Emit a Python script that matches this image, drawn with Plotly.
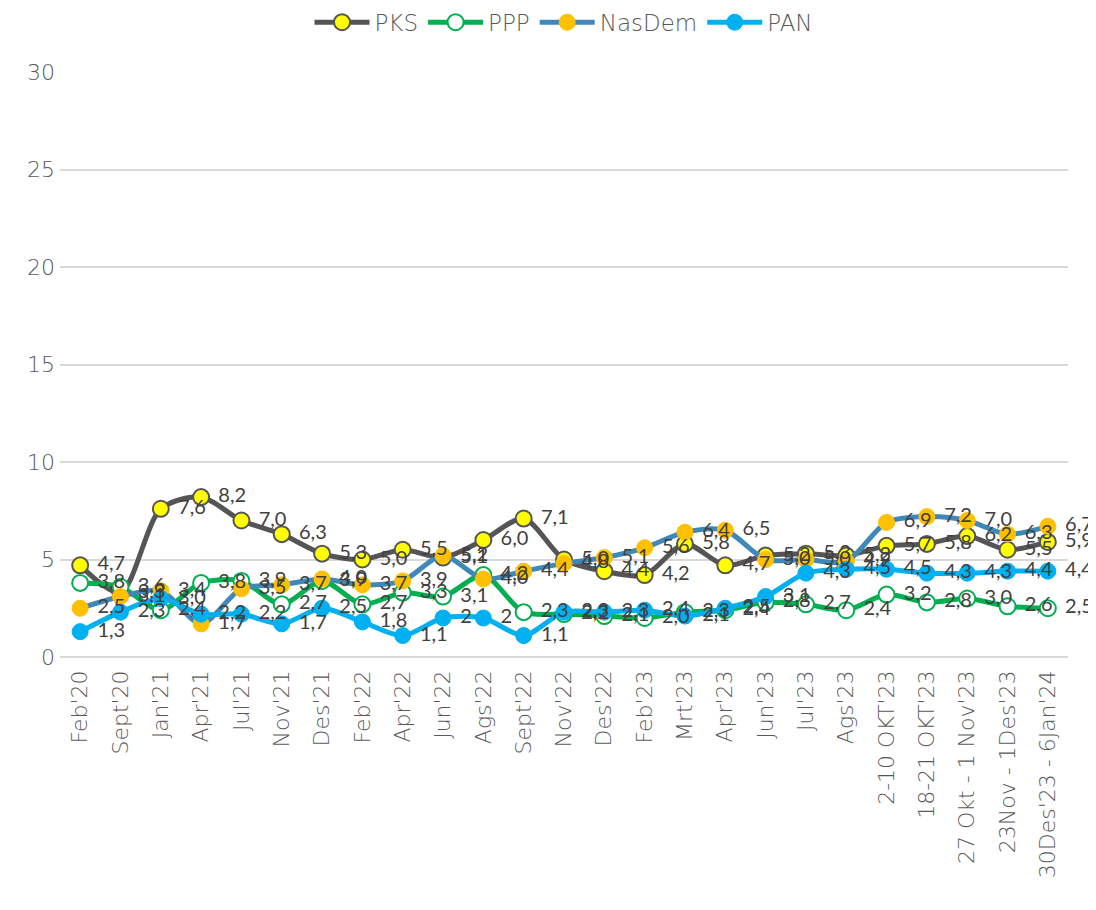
import plotly.graph_objects as go

categories = ["Feb'20", "Sept'20", "Jan'21", "Apr'21", "Jul'21", "Nov'21", "Des'21",
              "Feb'22", "Apr'22", "Jun'22", "Ags'22", "Sept'22", "Nov'22", "Des'22",
              "Feb'23", "Mrt'23", "Apr'23", "Jun'23", "Jul'23", "Ags'23",
              "2-10 OKT'23", "18-21 OKT'23", "27 Okt - 1 Nov'23", "23Nov - 1Des'23",
              "30Des'23 - 6Jan'24"]

pks = [4.7, 3.3, 7.6, 8.2, 7.0, 6.3, 5.3, 5.0, 5.5, 5.1, 6.0, 7.1, 5.0, 4.4,
       4.2, 5.8, 4.7, 5.2, 5.3, 5.2, 5.7, 5.8, 6.2, 5.5, 5.9]
ppp = [3.8, 3.6, 2.4, 3.8, 3.9, 2.7, 3.9, 2.7, 3.3, 3.1, 4.2, 2.3, 2.2, 2.1,
       2.0, 2.3, 2.4, 2.8, 2.7, 2.4, 3.2, 2.8, 3.0, 2.6, 2.5]
nasdem = [2.5, 3.1, 3.4, 1.7, 3.5, 3.7, 4.0, 3.7, 3.9, 5.2, 4.0, 4.4, 4.8, 5.1,
          5.6, 6.4, 6.5, 5.0, 5.0, 4.9, 6.9, 7.2, 7.0, 6.3, 6.7]
pan = [1.3, 2.3, 3.0, 2.2, 2.2, 1.7, 2.5, 1.8, 1.1, 2, 2, 1.1, 2.3, 2.3,
       2.4, 2.1, 2.5, 3.1, 4.3, 4.5, 4.5, 4.3, 4.3, 4.4, 4.4]

y_ticks = [0, 5, 10, 15, 20, 25, 30]

FONT = "DejaVu Sans"
LABEL_FONT = "Lato"
TEXT_COLOR = "#595959"


def fmt(v):
    if isinstance(v, int):
        return str(v)
    return f"{v:.1f}".replace(".", ",")


series = [
    ("PKS", pks, "#555555", dict(color="#FFFF00", line=dict(color="#555555", width=2), size=16)),
    ("PPP", ppp, "#00B050", dict(color="#FFFFFF", line=dict(color="#00B050", width=2), size=16)),
    ("NasDem", nasdem, "#3F88B8", dict(color="#FFC000", line=dict(color="#FFC000", width=1), size=16)),
    ("PAN", pan, "#00B0F0", dict(color="#00B0F0", line=dict(color="#00B0F0", width=1), size=16)),
]

fig = go.Figure()
for name, vals, lc, mk in series:
    fig.add_trace(go.Scatter(
        x=categories, y=vals, name=name, mode="lines+markers",
        line=dict(color=lc, width=5, shape="spline", smoothing=0.8),
        marker=dict(symbol="circle", **mk),
        cliponaxis=False, hoverinfo="skip",
    ))

for name, vals, lc, mk in series:
    fig.add_trace(go.Scatter(
        x=categories, y=vals, mode="markers+text", showlegend=False,
        text=[fmt(v) for v in vals], textposition="middle right",
        textfont=dict(family=LABEL_FONT, size=20, color="#404040"),
        marker=dict(size=26, color="rgba(0,0,0,0)"),
        cliponaxis=False, hoverinfo="skip",
    ))

fig.update_layout(
    width=1088, height=902,
    margin=dict(l=52, r=28, t=64, b=253, autoexpand=False),
    paper_bgcolor="white", plot_bgcolor="white",
    font=dict(family=FONT, color=TEXT_COLOR),
    legend=dict(orientation="h", x=0.5, xanchor="center", y=1.085, yanchor="middle",
                font=dict(family=FONT, size=23, color=TEXT_COLOR, weight=300), itemwidth=55,
                bgcolor="rgba(0,0,0,0)"),
    showlegend=True,
)
fig.update_xaxes(
    type="category", tickangle=-90,
    tickfont=dict(family=FONT, size=22, color=TEXT_COLOR, weight=300),
    showgrid=False, showline=False, zeroline=False, ticks="", automargin=False,
    range=[-0.5, len(categories) - 0.5], ticklabelstandoff=8,
)
fig.update_yaxes(
    range=[0, 30], tickvals=y_ticks, ticktext=[str(t) for t in y_ticks],
    showgrid=True, gridcolor="#D9D9D9", gridwidth=1.5, zeroline=True,
    zerolinecolor="#D9D9D9", zerolinewidth=1.5, showline=False, automargin=False,
    tickfont=dict(family=FONT, size=22, color=TEXT_COLOR, weight=300), ticks="",
    ticklabelstandoff=4,
)

fig.write_html("out.html")
